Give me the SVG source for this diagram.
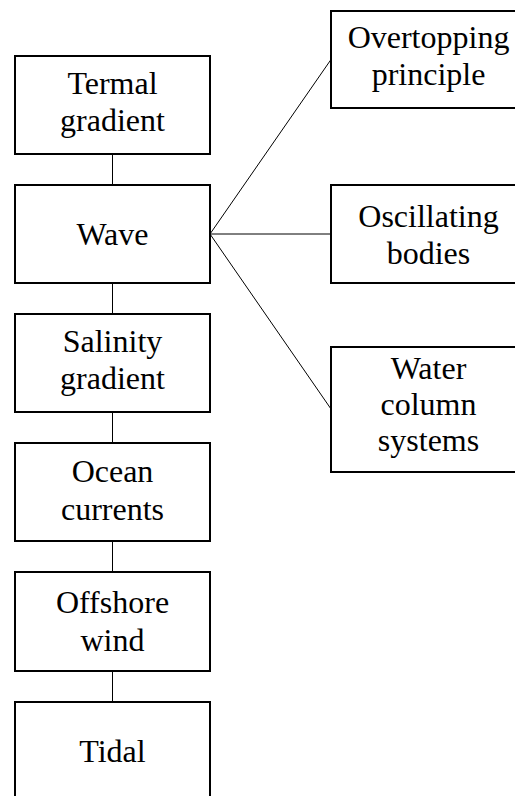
<svg xmlns="http://www.w3.org/2000/svg" width="515" height="796" viewBox="0 0 515 796">
<style>
.box{fill:#fff;stroke:#000;stroke-width:2}
.c{stroke:#000;stroke-width:1;fill:none}
</style>
<rect width="515" height="796" fill="#fff"/>
<g id="connectors">
<line class="c" x1="112.5" y1="155" x2="112.5" y2="185"/>
<line class="c" x1="112.5" y1="283" x2="112.5" y2="314"/>
<line class="c" x1="112.5" y1="412" x2="112.5" y2="443"/>
<line class="c" x1="112.5" y1="541" x2="112.5" y2="572"/>
<line class="c" x1="112.5" y1="671" x2="112.5" y2="702"/>
<line class="c" x1="210" y1="234" x2="331" y2="59.5"/>
<line class="c" x1="210" y1="234" x2="331" y2="234"/>
<line class="c" x1="210" y1="234" x2="331" y2="409"/>
</g>
<g font-family="Liberation Serif, DejaVu Serif, serif" font-size="32" text-anchor="middle" fill="#000">
<g id="termal">
<rect class="box" x="15" y="56" width="195" height="98"/>
<text x="112.5" y="93.5">Termal</text>
<text x="112.5" y="131">gradient</text>
</g>
<g id="wave">
<rect class="box" x="15" y="185" width="195" height="98"/>
<text x="112.5" y="244.5">Wave</text>
</g>
<g id="salinity">
<rect class="box" x="15" y="314" width="195" height="98"/>
<text x="112.5" y="352">Salinity</text>
<text x="112.5" y="389">gradient</text>
</g>
<g id="ocean">
<rect class="box" x="15" y="443" width="195" height="98"/>
<text x="112.5" y="482">Ocean</text>
<text x="112.5" y="520">currents</text>
</g>
<g id="offshore">
<rect class="box" x="15" y="572" width="195" height="99"/>
<text x="112.5" y="612.5">Offshore</text>
<text x="112.5" y="650.5">wind</text>
</g>
<g id="tidal">
<rect class="box" x="15" y="702" width="195" height="98"/>
<text x="112.5" y="762">Tidal</text>
</g>
<g id="overtopping">
<rect class="box" x="331" y="11" width="195" height="97"/>
<text x="428.5" y="48">Overtopping</text>
<text x="428.5" y="85">principle</text>
</g>
<g id="oscillating">
<rect class="box" x="331" y="185" width="195" height="98"/>
<text x="428.5" y="226.5">Oscillating</text>
<text x="428.5" y="263.5">bodies</text>
</g>
<g id="watercolumn">
<rect class="box" x="331" y="347" width="195" height="125"/>
<text x="428.5" y="378.5">Water</text>
<text x="428.5" y="415">column</text>
<text x="428.5" y="451">systems</text>
</g>
</g>
</svg>
